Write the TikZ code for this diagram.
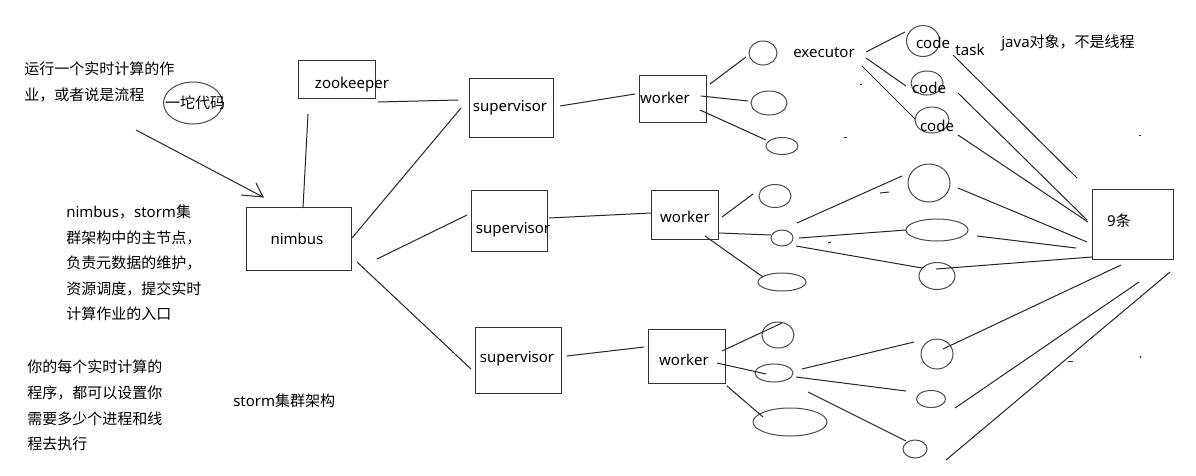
\documentclass[tikz,border=0pt]{standalone}
\usepackage{fontspec}
\setmainfont{Noto Sans}
\newfontfamily\cjk{Noto Sans CJK SC}
\usetikzlibrary{shapes.geometric}
\tikzset{
  ln/.style={draw=black!85, line width=0.75pt},
  bx/.style n args={2}{draw=black!80, line width=0.75pt, rectangle, inner sep=0pt,
    minimum width=#1*0.75pt, minimum height=#2*0.75pt},
  el/.style n args={2}{draw=black!70, line width=0.75pt, ellipse, inner sep=0pt,
    minimum width=#1*1.5pt, minimum height=#2*1.5pt},
  txt/.style={inner sep=0pt, text=black, font=\fontsize{11.25pt}{13pt}\selectfont},
  lt/.style={txt, anchor=west},
}
\begin{document}
\begin{tikzpicture}[x=0.75pt,y=-0.75pt]
\fill[white] (0,0) rectangle (1196,475);
\useasboundingbox (0,0) rectangle (1196,475);

% ---------- boxes ----------
\node[bx={77}{38}]  (zk)    at (336.5,79)  {};
\node[bx={105}{63}] (nimbus) at (298.5,238.5) {};
\node[bx={84}{59}]  (sup1)  at (511,107.5) {};
\node[bx={76}{61}]  (sup2)  at (509,220.5) {};
\node[bx={86}{66}]  (sup3)  at (518,360)   {};
\node[bx={67}{47}]  (w1)    at (672.5,98.5) {};
\node[bx={67}{49}]  (w2)    at (684.5,214.5) {};
\node[bx={77}{54}]  (w3)    at (686.5,356) {};
\node[bx={81}{70}]  (nine)  at (1132.5,224) {};

% ---------- ellipses ----------
\node[el={29.5}{21}] (blob) at (193,103) {};
\node[el={14}{12}]   (a1) at (763,53)  {};
\node[el={18}{12}]   (a2) at (769,103) {};
\node[el={16}{8.5}]  (a3) at (782,146) {};
\node[el={16.5}{15.5}] (c1) at (923,41) {};
\node[el={16}{12}]   (c2) at (927,83)  {};
\node[el={17}{13}]   (c3) at (932,120) {};
\node[el={16}{11.5}] (b1) at (775,196) {};
\node[el={11}{8}]    (b2) at (782,238) {};
\node[el={24}{9}]    (b3) at (782,282) {};
\node[el={21}{19}]   (b4) at (929,183) {};
\node[el={31}{11}]   (b5) at (937,230) {};
\node[el={18}{13.5}] (b6) at (937,276) {};
\node[el={16}{13}]   (d1) at (778,335) {};
\node[el={19}{9}]    (d2) at (774,373) {};
\node[el={37}{14}]   (d3) at (790,422) {};
\node[el={16}{15}]   (d4) at (937,354) {};
\node[el={14.5}{8.5}] (d5) at (931,399) {};
\node[el={12}{9}]    (d6) at (915,449) {};

% ---------- texts ----------
\node[lt] (t1a) at (24,69) {\cjk 运行一个实时计算的作};
\node[lt] (t1b) at (24,95) {\cjk 业，或者说是流程};
\node[txt] (blobt) at (195,103) {\cjk 一坨代码};
\node[txt] (zkt) at (352,85) {zookeeper};
\node[txt] (nimbust) at (297,239) {nimbus};
\node[txt] (sup1t) at (510,108) {supervisor};
\node[txt] (sup2t) at (513,230) {supervisor};
\node[txt] (sup3t) at (517,359) {supervisor};
\node[txt] (w1t) at (665,98) {worker};
\node[txt] (w2t) at (685,217) {worker};
\node[txt] (w3t) at (684,360) {worker};
\node[txt] (exect) at (824,53) {executor};
\node[txt] (c1t) at (933,43) {code};
\node[txt] (c2t) at (929,88) {code};
\node[txt] (c3t) at (937,126) {code};
\node[txt] (taskt) at (970,50) {task};
\node[txt] (javat) at (1068,43) {java{\cjk 对象，不是线程}};
\node[txt] (ninet) at (1119,221) {9{\cjk 条}};
\node[lt] (n1) at (66,212)   {nimbus{\cjk ，}storm{\cjk 集}};
\node[lt] (n2) at (66,237.5) {\cjk 群架构中的主节点，};
\node[lt] (n3) at (66,263)   {\cjk 负责元数据的维护，};
\node[lt] (n4) at (66,288.5) {\cjk 资源调度，提交实时};
\node[lt] (n5) at (66,314)   {\cjk 计算作业的入口};
\node[lt] (p1) at (27,367) {\cjk 你的每个实时计算的};
\node[lt] (p2) at (27,393) {\cjk 程序，都可以设置你};
\node[lt] (p3) at (27,419) {\cjk 需要多少个进程和线};
\node[lt] (p4) at (27,444) {\cjk 程去执行};
\node[lt] (title) at (233,401) {storm{\cjk 集群架构}};

% ---------- connector end points ----------
\coordinate (jobS) at (136,130); \coordinate (jobT) at (263,197);
\coordinate (jobB1) at (241,195); \coordinate (jobB2) at (256,183);
\coordinate (zkA) at (308,114); \coordinate (zkB) at (303,208);
\coordinate (zsA) at (378,102); \coordinate (zsB) at (458,100);
\coordinate (ns1A) at (352,238); \coordinate (ns1B) at (461,108);
\coordinate (ns2A) at (377,259); \coordinate (ns2B) at (467,215);
\coordinate (ns3A) at (357,262); \coordinate (ns3B) at (471,369);
\coordinate (sw1A) at (560,106); \coordinate (sw1B) at (635,94);
\coordinate (sw2A) at (549,218); \coordinate (sw2B) at (651,213);
\coordinate (sw3A) at (567,356); \coordinate (sw3B) at (644,347);
\coordinate (wa1A) at (710,84);  \coordinate (wa1B) at (746,57);
\coordinate (wa2A) at (701,96);  \coordinate (wa2B) at (748,101);
\coordinate (wa3A) at (700,110); \coordinate (wa3B) at (766,140);
\coordinate (ec1A) at (866,52);  \coordinate (ec1B) at (905,32);
\coordinate (ec2A) at (866,58);  \coordinate (ec2B) at (906,86);
\coordinate (ec3A) at (862,66);  \coordinate (ec3B) at (915,119);
\coordinate (cn1A) at (953,55);  \coordinate (cn1B) at (1077,178);
\coordinate (cn2A) at (958,93);  \coordinate (cn2B) at (1087,220);
\coordinate (cn3A) at (958,135); \coordinate (cn3B) at (1088,222);
\coordinate (wb1A) at (722,217); \coordinate (wb1B) at (753,194);
\coordinate (wb2A) at (719,233); \coordinate (wb2B) at (771,235);
\coordinate (wb3A) at (705,236); \coordinate (wb3B) at (763,277);
\coordinate (bb4A) at (797,223); \coordinate (bb4B) at (902,176);
\coordinate (bb5A) at (799,238); \coordinate (bb5B) at (906,230);
\coordinate (bb6A) at (796,246); \coordinate (bb6B) at (922,268);
\coordinate (bn4A) at (958,188); \coordinate (bn4B) at (1087,242);
\coordinate (bn5A) at (977,236); \coordinate (bn5B) at (1076,248);
\coordinate (bn6A) at (936,269); \coordinate (bn6B) at (1092,257);
\coordinate (nd4A) at (1121,265); \coordinate (nd4B) at (943,349);
\coordinate (nd5A) at (1139,282); \coordinate (nd5B) at (955,408);
\coordinate (nd6A) at (1170,272); \coordinate (nd6B) at (946,460);
\coordinate (wd1A) at (722,351); \coordinate (wd1B) at (782,323);
\coordinate (wd2A) at (717,363); \coordinate (wd2B) at (766,374);
\coordinate (wd3A) at (727,386); \coordinate (wd3B) at (763,417);
\coordinate (dd4A) at (802,369); \coordinate (dd4B) at (914,342);
\coordinate (dd5A) at (796,377); \coordinate (dd5B) at (906,391);
\coordinate (dd6A) at (808,392); \coordinate (dd6B) at (906,441);

% ---------- connectors ----------
\draw[ln] (jobS) -- (jobT);
\draw[ln] (jobB1) -- (jobT) -- (jobB2);
\draw[ln] (zkA) -- (zkB);
\draw[ln] (zsA) -- (zsB);
\draw[ln] (ns1A) -- (ns1B);
\draw[ln] (ns2A) -- (ns2B);
\draw[ln] (ns3A) -- (ns3B);
\draw[ln] (sw1A) -- (sw1B);
\draw[ln] (sw2A) -- (sw2B);
\draw[ln] (sw3A) -- (sw3B);
\draw[ln] (wa1A) -- (wa1B);
\draw[ln] (wa2A) -- (wa2B);
\draw[ln] (wa3A) -- (wa3B);
\draw[ln] (ec1A) -- (ec1B);
\draw[ln] (ec2A) -- (ec2B);
\draw[ln] (ec3A) -- (ec3B);
\draw[ln] (cn1A) -- (cn1B);
\draw[ln] (cn2A) -- (cn2B);
\draw[ln] (cn3A) -- (cn3B);
\draw[ln] (wb1A) -- (wb1B);
\draw[ln] (wb2A) -- (wb2B);
\draw[ln] (wb3A) -- (wb3B);
\draw[ln] (bb4A) -- (bb4B);
\draw[ln] (bb5A) -- (bb5B);
\draw[ln] (bb6A) -- (bb6B);
\draw[ln] (bn4A) -- (bn4B);
\draw[ln] (bn5A) -- (bn5B);
\draw[ln] (bn6A) -- (bn6B);
\draw[ln] (nd4A) -- (nd4B);
\draw[ln] (nd5A) -- (nd5B);
\draw[ln] (nd6A) -- (nd6B);
\draw[ln] (wd1A) -- (wd1B);
\draw[ln] (wd2A) -- (wd2B);
\draw[ln] (wd3A) -- (wd3B);
\draw[ln] (dd4A) -- (dd4B);
\draw[ln] (dd5A) -- (dd5B);
\draw[ln] (dd6A) -- (dd6B);

% ---------- stray pen marks ----------
\coordinate (m1a) at (880,193); \coordinate (m1b) at (889,192);
\coordinate (m2a) at (828,243); \coordinate (m2b) at (831,242);
\coordinate (m3a) at (860,84);  \coordinate (m3b) at (862,84);
\coordinate (m4a) at (844,137); \coordinate (m4b) at (847,137);
\coordinate (m5a) at (1139,135); \coordinate (m5b) at (1141,135);
\coordinate (m6a) at (1068,361); \coordinate (m6b) at (1073,361);
\coordinate (m7a) at (1141,356); \coordinate (m7b) at (1140,358);
\coordinate (m8a) at (477,251); \coordinate (m8b) at (479,251);
\draw[ln] (m1a) -- (m1b);
\draw[ln] (m2a) -- (m2b);
\draw[ln] (m3a) -- (m3b);
\draw[ln] (m4a) -- (m4b);
\draw[ln] (m5a) -- (m5b);
\draw[ln] (m6a) -- (m6b);
\draw[ln] (m7a) -- (m7b);
\draw[ln] (m8a) -- (m8b);
\end{tikzpicture}
\end{document}
